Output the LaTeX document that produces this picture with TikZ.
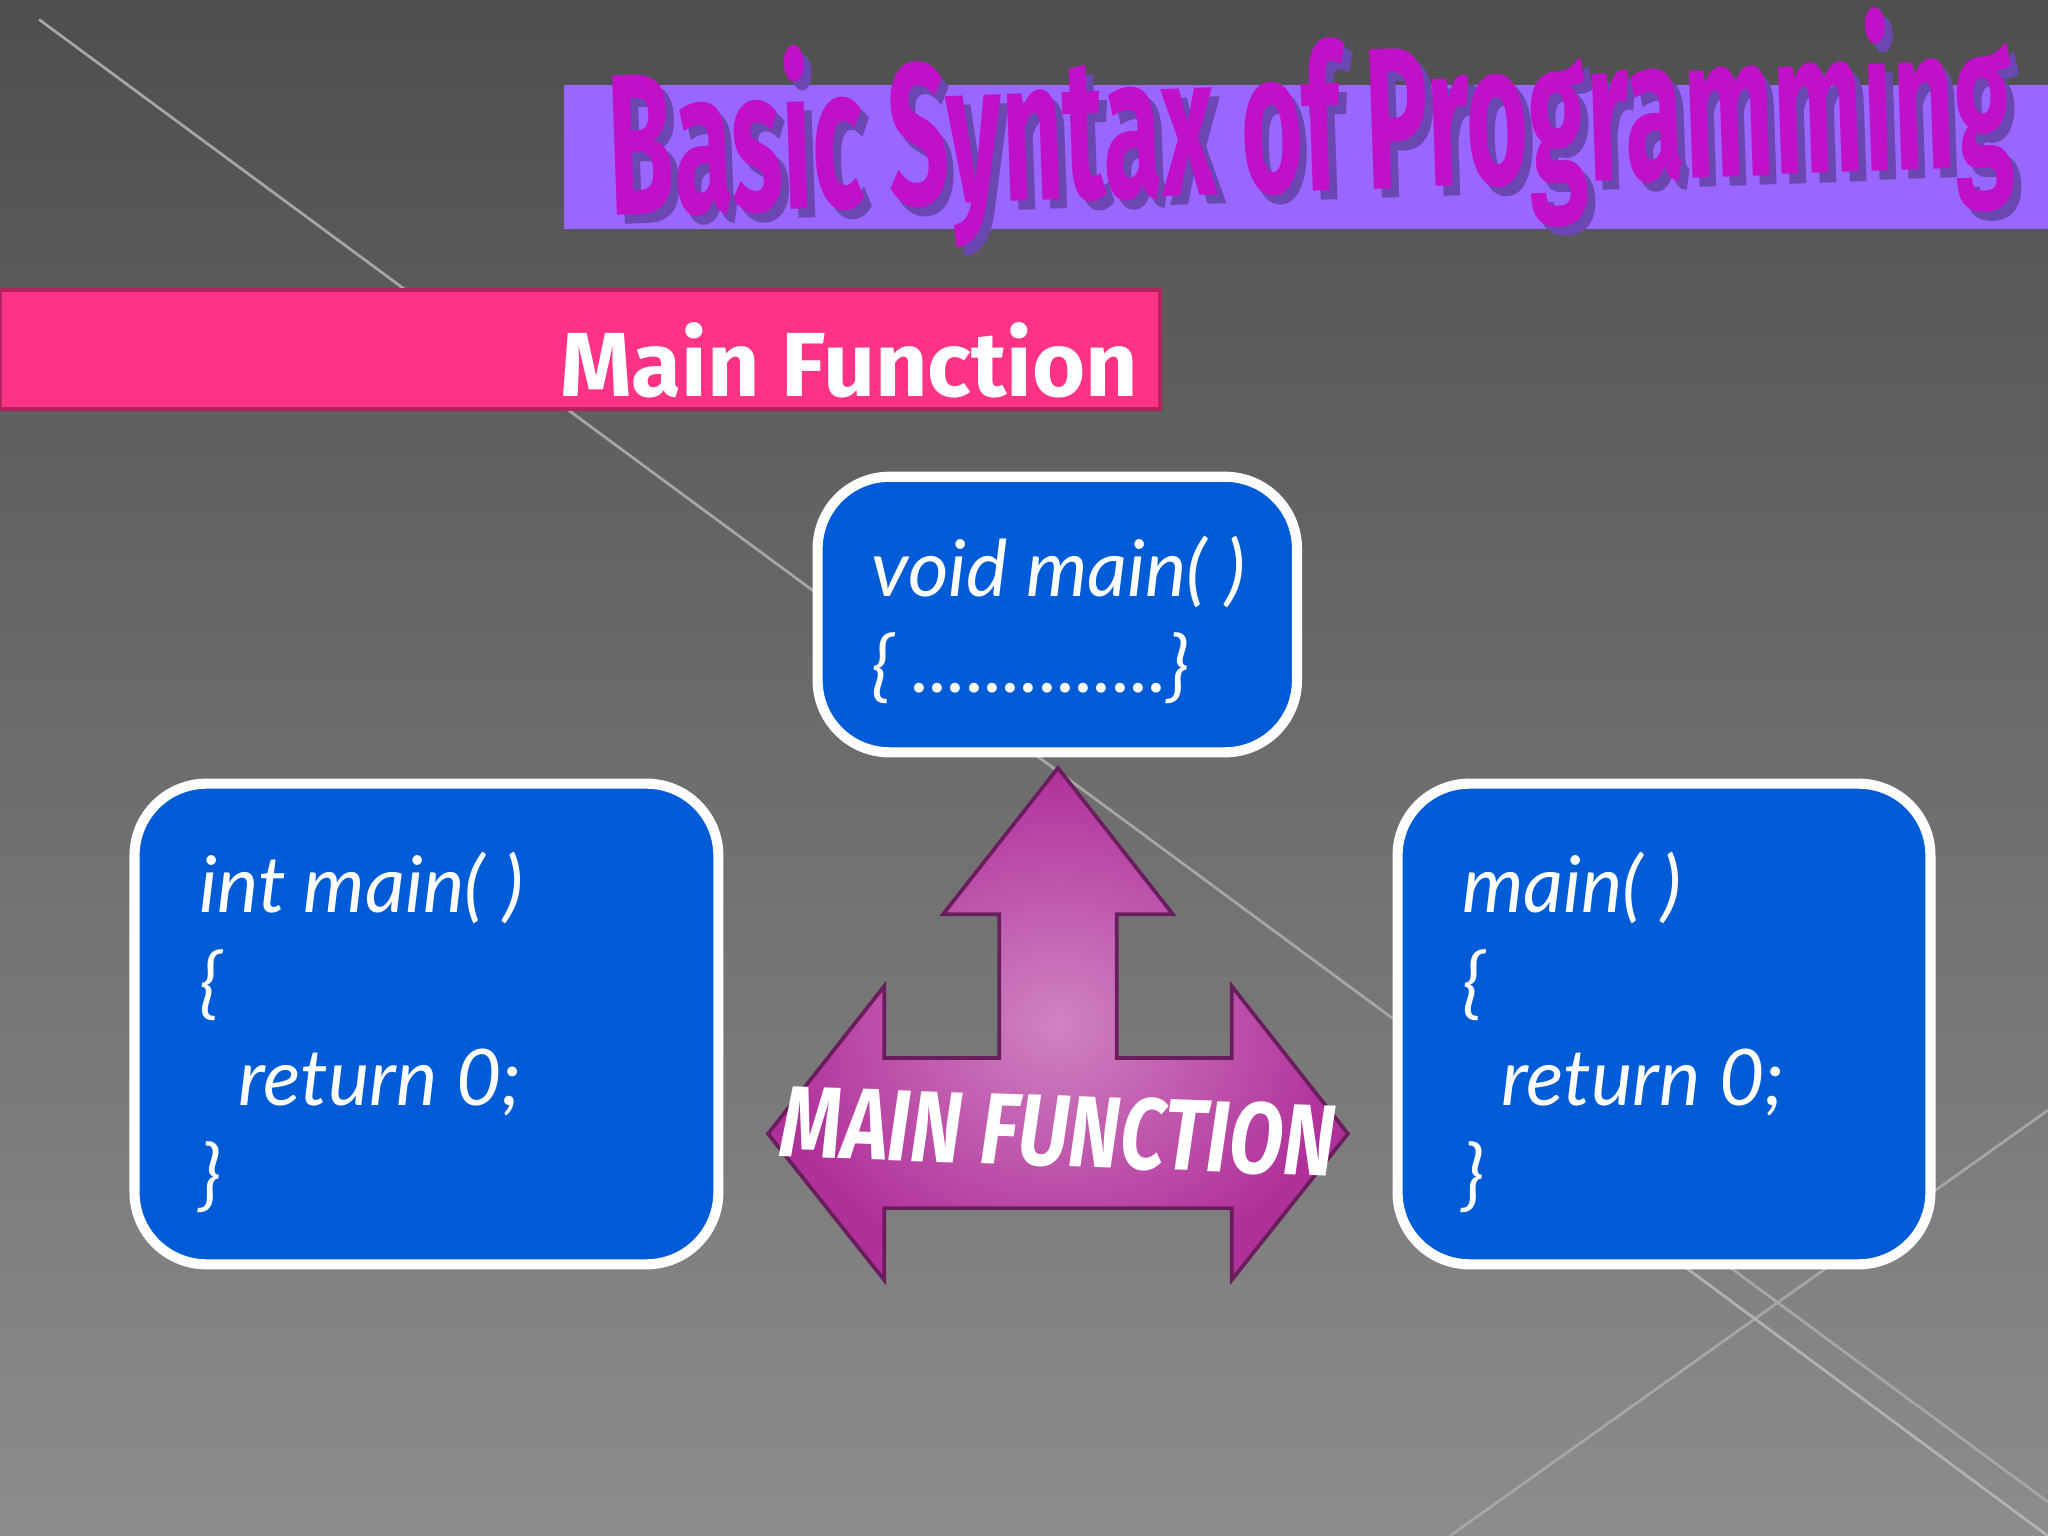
\documentclass[tikz,border=0pt]{standalone}
\usepackage{fontspec}
\setmainfont{Lato}
\newfontfamily\titlef{Fira Sans}
\usepackage{graphicx}
\begin{document}
\begin{tikzpicture}[x=0.01cm,y=-0.01cm,
  codebox/.style={draw=white,line width=2.2pt,fill=cblue,rounded corners=0.55cm},
  codetxt/.style={text=white,font=\fontsize{17}{21}\selectfont\itshape,align=left,anchor=north west}]
\definecolor{cblue}{HTML}{005CD6}
\definecolor{bgtop}{HTML}{4E4E4E}
\definecolor{bgbot}{HTML}{8C8C8C}
\definecolor{ttl}{HTML}{C010C8}
\definecolor{band}{HTML}{9966FF}
\definecolor{pink}{HTML}{FF3385}
\definecolor{arr}{HTML}{B0309A}
\useasboundingbox (0,0) rectangle (1568,1176);
\shade[top color=bgtop,bottom color=bgbot] (0,0) rectangle (1568,1176);
% faint diagonal lines
\draw[gray!70,line width=0.6pt] (30,15) -- (1568,1150);
\draw[gray!70,line width=0.6pt] (1110,1176) -- (1568,850);
\draw[gray!60,line width=0.6pt] (1290,970) -- (1568,1176);
% title band
\fill[band] (432,65) rectangle (1568,175);
\node[anchor=south west,inner sep=0,text=band!70!black,rotate=2] (titleS) at (474,207)
  {\resizebox{10.75cm}{1.25cm}{\titlef\bfseries Basic Syntax of Programming}};
\node[anchor=south west,inner sep=0,text=ttl,rotate=2] (title) at (468,200)
  {\resizebox{10.75cm}{1.25cm}{\titlef\bfseries Basic Syntax of Programming}};
% pink bar
\draw[fill=pink,draw=pink!70!black,line width=1pt] (0,222) rectangle (888,313);
\node[anchor=east,inner sep=0,text=white] (mf) at (872,276)
  {\resizebox{4.42cm}{!}{\titlef\bfseries Main Function}};
% boxes
\draw[codebox] (626,365) rectangle (993,576);
\node[codetxt] (t1) at (655,398) {void main( )\\\{ ..............\}};
\draw[codebox] (103,600) rectangle (550,968);
\node[codetxt] (t2) at (140,640) {int main( )\\\{\\\hspace{0.3cm}return 0;\\\}};
\draw[codebox] (1070,600) rectangle (1478,968);
\node[codetxt] (t3) at (1107,640) {main( )\\\{\\\hspace{0.3cm}return 0;\\\}};
% arrow
\shade[inner color=arr!60!white,outer color=arr,draw=arr!60!black,line width=0.8pt]
 (810,588) -- (898,700) -- (855,700) -- (855,810) -- (943,810) -- (943,755) -- (1032,868)
 -- (943,980) -- (943,925) -- (677,925) -- (677,980) -- (588,868) -- (677,755) -- (677,810)
 -- (765,810) -- (765,700) -- (722,700) -- cycle;
\node[inner sep=0,text=white,rotate=-2] (af) at (810,866)
  {\resizebox{4.24cm}{0.55cm}{\titlef\bfseries\itshape MAIN FUNCTION}};
\end{tikzpicture}
\end{document}
